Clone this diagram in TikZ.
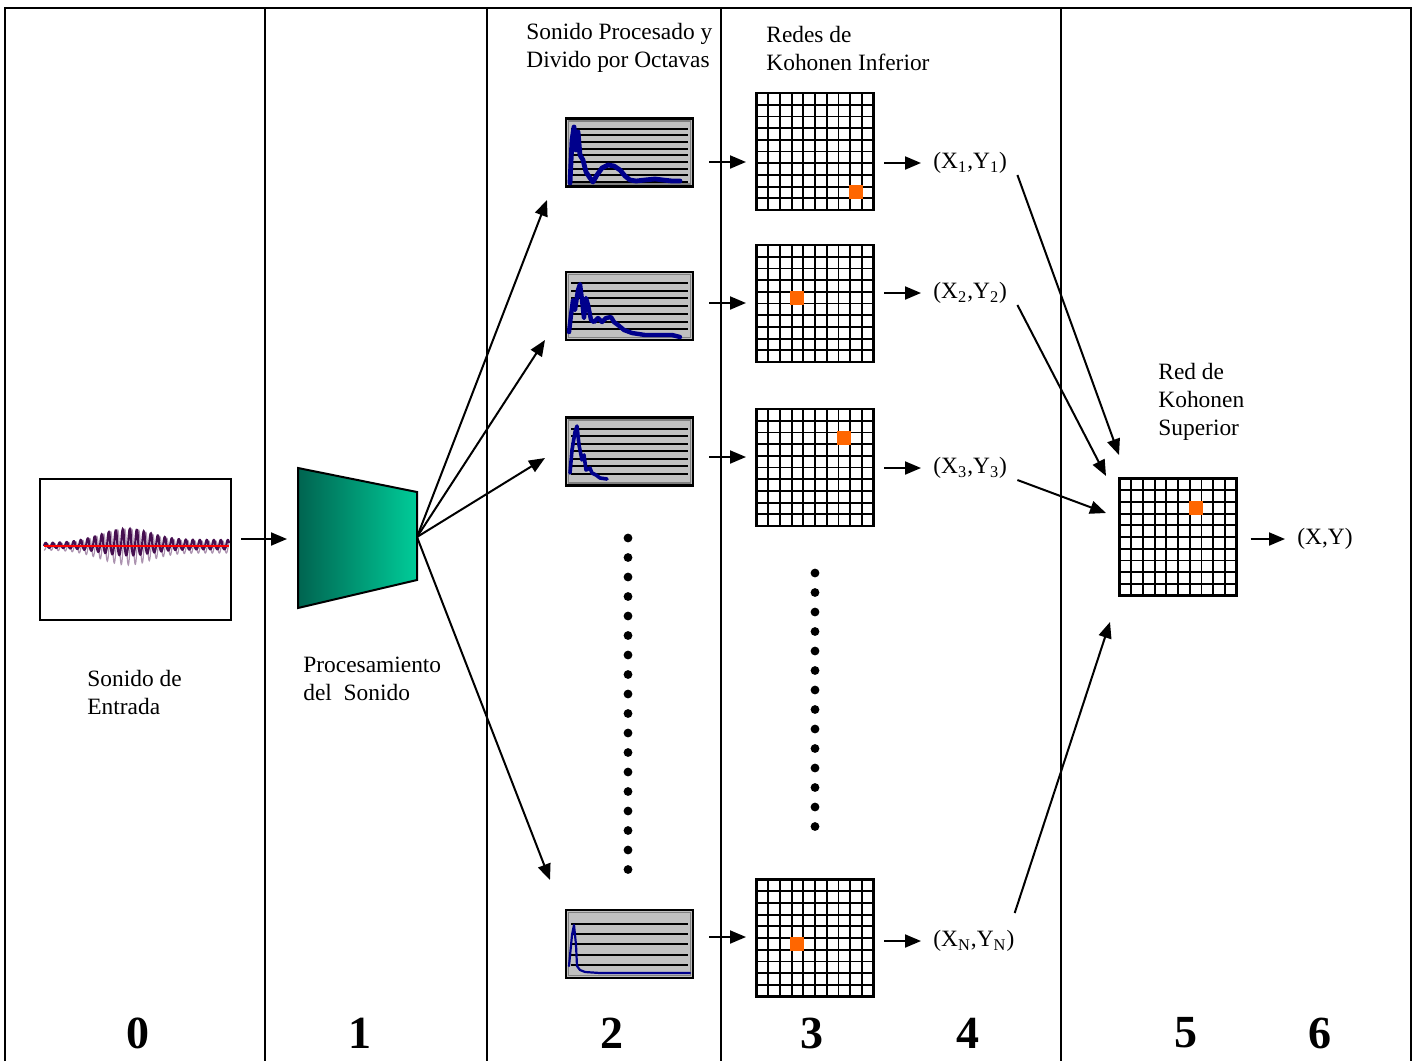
\documentclass[tikz,border=0pt]{standalone}
\usepackage{fontspec}
\setmainfont{Liberation Serif}
\usetikzlibrary{positioning,arrows.meta,calc}

\definecolor{sompurple}{RGB}{70,15,80}
\definecolor{specblue}{RGB}{0,0,140}
\definecolor{winner}{RGB}{255,102,0}
\definecolor{procdark}{RGB}{0,100,80}
\definecolor{proclight}{RGB}{0,204,153}
\definecolor{panelgray}{RGB}{192,192,192}
\definecolor{paneledge}{RGB}{128,128,128}

% 10x10 Kohonen map inside node #1, winning cell at column #2, row #3
\newcommand{\kohonenmap}[3]{%
  \foreach \k in {1,...,9} {
    \draw[line width=0.9pt] ($(#1.north west)+(\k*11.7,0)$) -- ++(0,117);
    \draw[line width=0.9pt] ($(#1.north west)+(0,\k*11.7)$) -- ++(117,0);
  }
  \fill[winner] ($(#1.north west)+(#2*11.7-1.2,#3*11.7-1.2)$) rectangle ++(14,14);
}

% octave panel #1: #2 rules, first one #3 below the top, every #4
\newcommand{\octavelines}[4]{%
  \draw[paneledge, line width=0.8pt] ($(#1.north west)+(2.5,2.5)$) rectangle ($(#1.south east)+(-2.5,-2.5)$);
  \foreach \k in {1,...,#2}
    \draw[line width=1pt] ($(#1.north west)+(5,#3+\k*#4-#4)$) -- ++(117,0);
}

\begin{document}
\begin{tikzpicture}[x=0.5pt, y=-0.5pt,
  arr/.style={-{Triangle[length=8pt,width=6.5pt]}, line width=1pt},
  specbox/.style={draw, line width=1.2pt, fill=panelgray, minimum width=63.5pt,
    minimum height=34pt, inner sep=0, outer sep=0},
  kmap/.style={draw, line width=1.2pt, minimum size=58.5pt, inner sep=0, outer sep=0},
  lbl/.style={font=\fontsize{11.7}{14}\selectfont, align=left, inner sep=0, anchor=west},
  stage/.style={font=\fontsize{23}{23}\selectfont\bfseries},
  divider/.style={line width=1pt},
  spec/.style={specblue, line join=round, line cap=round}]

\useasboundingbox (0,0) rectangle (1418,1061);

% Stage columns
\draw[divider] (5,1061) -- (5,8) -- (1411,8) -- (1411,1061);
\foreach \x in {265,487,721,1061}
  \draw[divider] (\x,8) -- (\x,1061);

% Stage numbers
\foreach \stg/\x in {0/138,1/360,2/612,3/812,4/968,5/1186,6/1320}
  \node[stage] (n\stg) at (\x,1033) {\stg};

% Input sound
\node[draw, line width=1pt, minimum width=95.5pt, minimum height=70.5pt,
  inner sep=0, outer sep=0] (w0) at (135.5,549.5) {};
\draw[sompurple!45, line width=0.6pt] plot[domain=44:229, samples=600, variable=\t]
  (\t, {547 - ((\t<128) ? (3+15*exp(-(((\t-128)/38)^2))) : (6+12*exp(-(((\t-128)/32)^2))))
    * sin(51.4*(\t-46))});
\draw[sompurple, line width=1.1pt] plot[domain=44:229, samples=600, variable=\t]
  (\t, {546 - ((\t<128) ? (3+14*exp(-(((\t-128)/38)^2))) : (6+11*exp(-(((\t-128)/32)^2))))
    * sin(51.4*(\t-44)) * ((sin(51.4*(\t-44)) > 0) ? 1 : 0.55)});
\draw[red, line width=0.6pt] (44,546) -- (229,546);
\node[lbl] (t0) at (87,692) {Sonido de\\Entrada};

% Sound processing
\coordinate (procin) at (298,539);
\coordinate (procout) at (417,537);
\shadedraw[left color=procdark, right color=proclight, line width=1pt]
  (298,468) -- (417,492) -- (417,580) -- (298,608) -- cycle;
\node[lbl] (t1) at (303,679) {Procesamiento\\del\ \ Sonido};
\draw[arr, shorten <=5pt, shorten >=5.5pt] (w0.east |- procin) -- (procin);

% Octave bands
\node[lbl] (t2) at (526,48) {Sonido Procesado y\\Divido por Octavas};
\node[specbox] (s1) at (629.5,152.5) {};
\node[specbox] (s2) at (629.5,306) {};
\node[specbox] (s3) at (629.5,451.5) {};
\node[specbox] (sN) at (629.5,944) {};
\octavelines{s1}{9}{10}{6.7}
\octavelines{s2}{7}{11}{7.7}
\octavelines{s3}{7}{11}{7.5}
\octavelines{sN}{5}{14}{10.2}
\draw[spec, line width=2.4pt] plot coordinates {(570,183) (572,140) (574,127) (576,150)
  (578,132) (580,155) (583,160) (586,172) (590,178) (593,182) (597,175) (602,168)
  (608,165) (614,166) (620,170) (625,176) (630,180) (636,181) (645,180) (655,179)
  (663,180) (672,181) (680,181)};
\draw[spec, line width=2.2pt] plot coordinates {(569,332) (571,315) (573,300) (575,310)
  (578,290) (580,284) (582,300) (584,318) (586,298) (588,305) (591,320) (594,322)
  (598,318) (602,322) (606,318) (611,317) (614,322) (618,325) (624,330) (632,333)
  (645,335) (660,335) (672,335) (680,337)};
\draw[spec, line width=1.8pt] plot coordinates {(570,473) (572,450) (575,432) (577,426)
  (579,445) (582,460) (584,455) (586,470) (590,468) (592,473) (596,475) (600,478)
  (607,479)};
\draw[spec, line width=1.1pt] plot coordinates {(569,966) (572,935) (574,925) (576,945)
  (577,966) (580,970) (585,972) (600,973) (690,973)};
\foreach \k in {0,...,17}
  \fill (628,538+\k*19.5) circle (2.2pt);

% Split into octaves
\coordinate (f1) at (547,200);
\coordinate (f2) at (545,340);
\coordinate (f3) at (545,458);
\coordinate (fN) at (550,880);
\foreach \f in {f1,f2,f3,fN}
  \draw[arr] (procout) -- (\f);

% Lower Kohonen maps
\node[lbl] (t3) at (766,48) {Redes de\\Kohonen Inferior};
\node[kmap] (g1) at (815,151.5) {};
\node[kmap] (g2) at (815,303.5) {};
\node[kmap] (g3) at (815,467.5) {};
\node[kmap] (gN) at (815,938) {};
\kohonenmap{g1}{8}{8}
\kohonenmap{g2}{3}{4}
\kohonenmap{g3}{7}{2}
\kohonenmap{gN}{3}{5}
\foreach \k in {0,...,13}
  \fill (815,573+\k*19.5) circle (2.2pt);
\draw[arr] ([shift={(16,9.5)}]s1.east) -- ([shift={(-10.5,10.5)}]g1.west);
\draw[arr] ([shift={(16,-3)}]s2.east) -- ([shift={(-10.5,-0.5)}]g2.west);
\draw[arr] ([shift={(16,5.5)}]s3.east) -- ([shift={(-10.5,-10.5)}]g3.west);
\draw[arr] ([shift={(16,-7)}]sN.east) -- ([shift={(-10.5,-1)}]gN.west);

% Winner coordinates
\node[lbl] (c1) at (933,163) {(X\textsubscript{1},Y\textsubscript{1})};
\node[lbl] (c2) at (933,293) {(X\textsubscript{2},Y\textsubscript{2})};
\node[lbl] (c3) at (933,468) {(X\textsubscript{3},Y\textsubscript{3})};
\node[lbl] (cN) at (933,941) {(X\textsubscript{N},Y\textsubscript{N})};
\foreach \g/\c in {g1/c1,g2/c2,g3/c3,gN/cN}
  \draw[arr, shorten <=5.25pt, shorten >=6pt] (\g.east |- \c.west) -- (\c.west);

% Upper Kohonen map
\node[lbl] (t5) at (1158,402) {Red de\\Kohonen\\Superior};
\node[kmap] (gS) at (1178,537) {};
\kohonenmap{gS}{6}{2}
\coordinate (h1) at (1119,455);
\coordinate (h2) at (1106,476);
\coordinate (h3) at (1106,513);
\coordinate (hN) at (1110,622);
\draw[arr] ([shift={(10,12)}]c1.east) -- (h1);
\draw[arr] ([shift={(10,12)}]c2.east) -- (h2);
\draw[arr] ([shift={(10,12)}]c3.east) -- (h3);
\draw[arr] ([shift={(0,-28)}]cN.east) -- (hN);

% Output
\node[lbl] (cS) at (1297,539) {(X,Y)};
\draw[arr, shorten <=7pt, shorten >=6pt] (gS.east |- cS.west) -- (cS.west);
\end{tikzpicture}
\end{document}
